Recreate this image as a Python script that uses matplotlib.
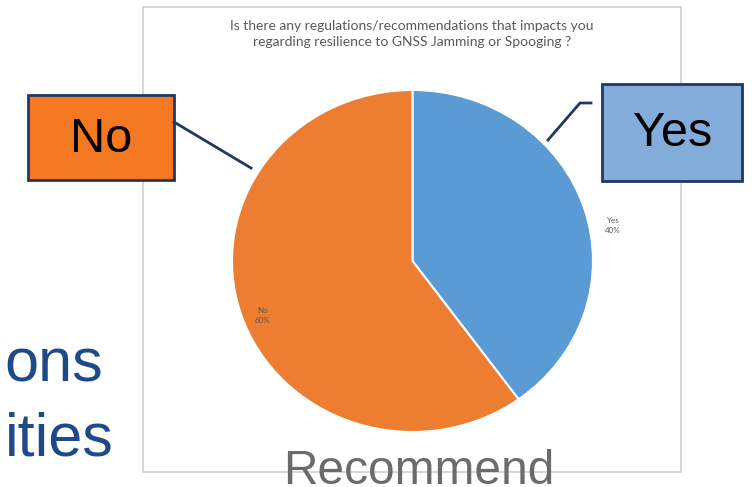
import matplotlib.pyplot as plt
from matplotlib.patches import Rectangle

# survey answers
answers = ['Yes', 'No']
shares = [40, 60]
slice_colors = ['#5B9BD5', '#ED7D31']
title = ('Is there any regulations/recommendations that impacts you\n'
         'regarding resilience to GNSS Jamming or Spooging ?')

W, H = 753, 487
fig = plt.figure(figsize=(W / 100, H / 100), dpi=100)

# full-figure layer in pixel coordinates (slide background, frame, callouts)
bg = fig.add_axes([0, 0, 1, 1])
bg.set_xlim(0, W)
bg.set_ylim(H, 0)
bg.axis('off')

# chart frame
bg.add_patch(Rectangle((143, 7), 681 - 143, 472 - 7, fill=False,
                       edgecolor='#d0d0d0', lw=1.2, zorder=1))
bg.text(412, 34, title, ha='center', va='center', fontsize=10,
        family='Lato', color='#595959', linespacing=1.4, zorder=2)

# pie
pie_ax = fig.add_axes([232 / W, 1 - 432 / H, 361 / W, 342 / H])
wedges, _ = pie_ax.pie(shares, colors=slice_colors, startangle=90, counterclock=False,
                       wedgeprops=dict(edgecolor='white', linewidth=1.5))
pie_ax.set_aspect('auto')
pie_ax.set_xlim(-1, 1)
pie_ax.set_ylim(-1, 1)

# data labels
label_pos = {'Yes': (1.11, 0.205), 'No': (-0.83, -0.316)}
for name, val in zip(answers, shares):
    x, y = label_pos[name]
    pie_ax.text(x, y, f'{name}\n{val}%', ha='center', va='center', fontsize=5.8,
                color='#595959', family='Lato', linespacing=1.5)

# callout boxes
bg.add_patch(Rectangle((28, 95), 146, 85, facecolor='#F47722', edgecolor='#1F3864',
                       lw=2, zorder=5))
bg.text(101, 139, 'No', ha='center', va='center', fontsize=35,
        family='Liberation Sans', color='black', zorder=6)
bg.plot([174, 251], [122, 168], color='#1F3864', lw=2, zorder=5)

bg.add_patch(Rectangle((602, 84), 140, 97, facecolor='#84ACDA', edgecolor='#1F3864',
                       lw=2, zorder=5))
bg.text(673, 134, 'Yes', ha='center', va='center', fontsize=35,
        family='Liberation Sans', color='black', zorder=6)
bg.plot([591, 580, 548], [103, 103, 140], color='#1F3864', lw=2, zorder=5)

# slide text behind the chart
bg.text(103, 381, 'ons', ha='right', va='baseline', fontsize=44,
        family='Liberation Sans', color='#1F4A8A', zorder=0)
bg.text(114, 455, 'ities', ha='right', va='baseline', fontsize=44,
        family='Liberation Sans', color='#1F4A8A', zorder=0)
bg.text(283, 484, 'Recommend', ha='left', va='baseline', fontsize=34.5,
        family='Liberation Sans', color='#6B6B6B', zorder=3)

fig.savefig('out.png', dpi=100)
